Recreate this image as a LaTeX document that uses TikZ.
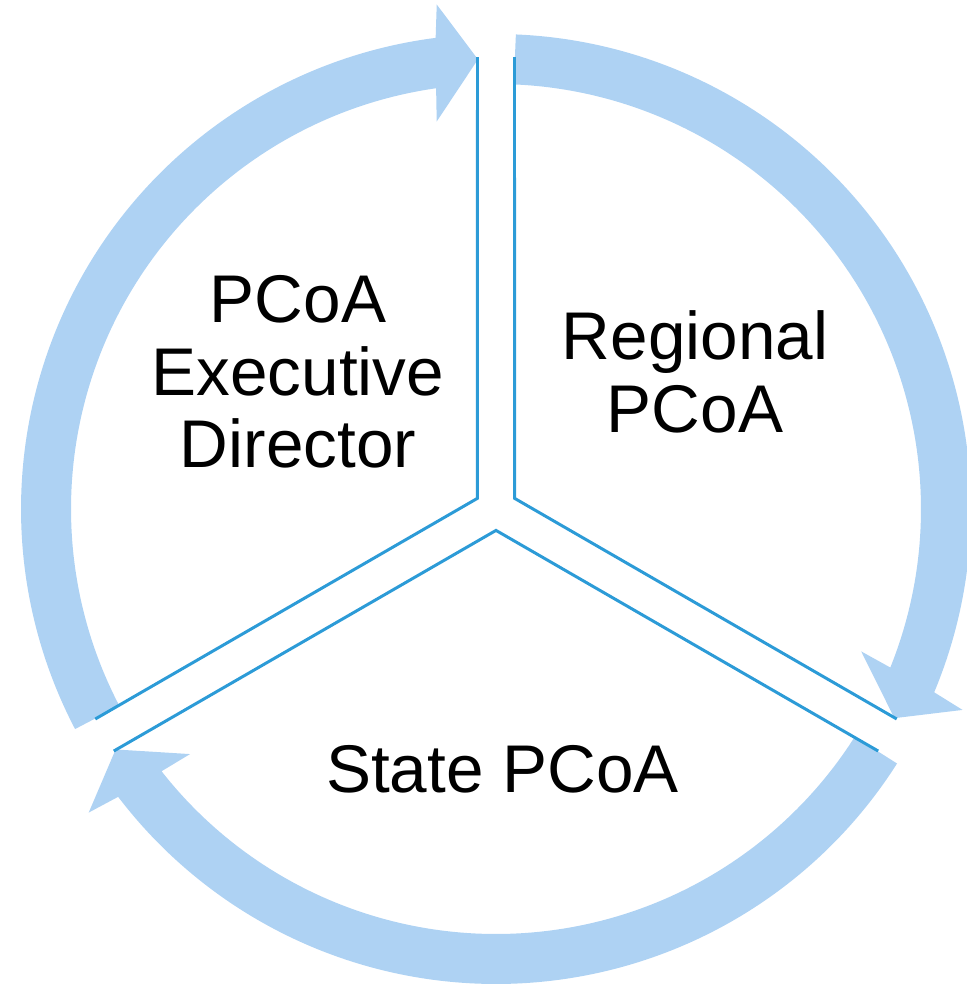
\documentclass[tikz,border=0pt]{standalone}
\usepackage{fontspec}
\setmainfont{Liberation Sans}
\definecolor{arrowblue}{RGB}{174,210,243}
\definecolor{lineblue}{RGB}{44,155,215}
\tikzset{
  cyclearrow/.style={fill=arrowblue, draw=none},
  sectorline/.style={draw=lineblue, line width=1.7pt, line join=miter},
  sectortext/.style={font=\fontsize{38.4}{41.3}\selectfont, align=center, inner sep=0pt}
}
\begin{document}
\begin{tikzpicture}[x=0.02cm, y=0.02cm]
  \useasboundingbox (-496,-486) rectangle (471,509);
  % corners and outer ends of the three sectors
  \coordinate (exec-c) at (150:21.4);
  \coordinate (exec-a) at ([shift={(180:18.5)}]90:452);
  \coordinate (exec-b) at ([shift={(120:18.5)}]210:452);
  \coordinate (regional-c) at (30:21.4);
  \coordinate (regional-a) at ([shift={(0:18.5)}]90:452);
  \coordinate (regional-b) at ([shift={(60:18.5)}]330:452);
  \coordinate (state-c) at (270:21.4);
  \coordinate (state-a) at ([shift={(300:18.5)}]210:452);
  \coordinate (state-b) at ([shift={(240:18.5)}]330:452);
  % the three arrows
  \fill[cyclearrow] (87.6:475) arc[start angle=87.6, end angle=-22.7, radius=475]
    -- (-23.3:508) -- (-27.7:450) -- (-21.3:392) -- (-21.9:425)
    arc[start angle=-21.9, end angle=87.6, radius=425] -- cycle;
  \fill[cyclearrow] (-32.4:475) arc[start angle=-32.4, end angle=-142.7, radius=475]
    -- (-143.3:508) -- (-147.7:450) -- (-141.3:392) -- (-141.9:425)
    arc[start angle=-141.9, end angle=-32.4, radius=425] -- cycle;
  \fill[cyclearrow] (207.6:475) arc[start angle=207.6, end angle=97.3, radius=475]
    -- (96.7:508) -- (92.3:450) -- (98.7:392) -- (98.1:425)
    arc[start angle=98.1, end angle=207.6, radius=425] -- cycle;
  % sector edges
  \begin{scope}[sectorline]
    \draw (exec-a) -- (exec-c) -- (exec-b);
    \draw (regional-a) -- (regional-c) -- (regional-b);
    \draw (state-a) -- (state-c) -- (state-b);
  \end{scope}
  \node[sectortext] (exec) at (-198,137) {PCoA\\Executive\\Director};
  \node[sectortext] (regional) at (199,137) {Regional\\PCoA};
  \node[sectortext, anchor=base] (state) at (6.5,-283) {State PCoA};
\end{tikzpicture}
\end{document}
